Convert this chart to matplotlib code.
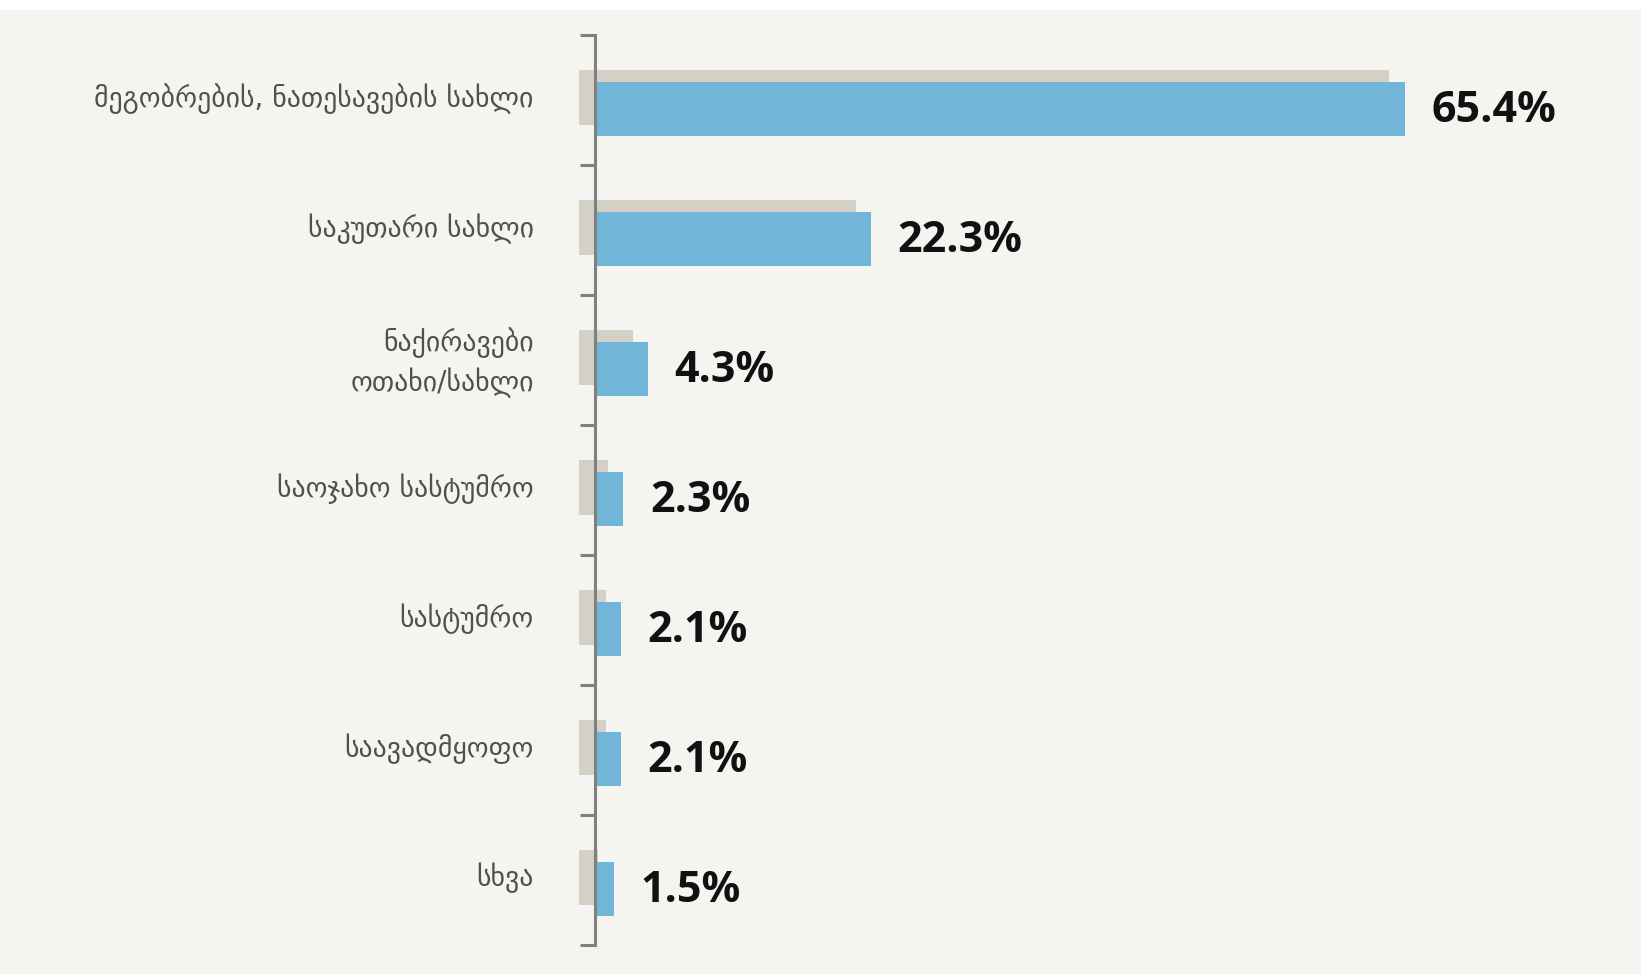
import matplotlib
matplotlib.use("Agg")
import matplotlib.pyplot as plt
from matplotlib.patches import Rectangle
import numpy as np

# ადგილი, სადაც ცხოვრობდნენ
kategoriat = ["მეგობრების, ნათესავების სახლი",
              "საკუთარი სახლი",
              "ნაქირავები\nოთახი/სახლი",
              "საოჯახო სასტუმრო",
              "სასტუმრო",
              "საავადმყოფო",
              "სხვა"]
arvot = [65.4, 22.3, 4.3, 2.3, 2.1, 2.1, 1.5]
nimiot = ["65.4%", "22.3%", "4.3%", "2.3%", "2.1%", "2.1%", "1.5%"]

tausta = "#f4f4f0"
sininen = "#71b6d9"
varjo = "#d5d0c6"
harmaa = "#808080"

fig = plt.figure(figsize=(16.41, 9.74), dpi=100, facecolor=tausta)
# valkoinen kaistale ylareunassa
fig.patches.append(Rectangle((0, 1 - 10/974), 1, 10/974, transform=fig.transFigure,
                             facecolor="white", edgecolor="none", zorder=0))
ax = fig.add_axes([576.4/1641, 1-945/974, (1598-576.4)/1641, 910/974])
ax.set_facecolor(tausta)

y = np.arange(len(arvot))
# varjo ensin, sitten sininen palkki paalle
ax.barh(y - 0.02, arvot, left=-1.25, height=0.42, color=varjo, zorder=1)
ax.barh(y + 0.07, arvot, height=0.42, color=sininen, zorder=2)

for yi, a, t in zip(y, arvot, nimiot):
    ax.annotate(t, (a, yi + 0.08), xytext=(19, 0), textcoords="offset points",
                ha="left", va="center", fontsize=31, fontweight="bold",
                family=["Open Sans", "DejaVu Sans"], color="#111111")

ax.set_xlim(-1.5, 81)
ax.set_ylim(6.5, -0.5)

for s in ["top", "right", "bottom"]:
    ax.spines[s].set_visible(False)
ax.spines["left"].set_position(("data", 0))
ax.spines["left"].set_color(harmaa)
ax.spines["left"].set_linewidth(2.2)
ax.spines["left"].set_zorder(3)

ax.set_xticks([])
ax.set_yticks(np.arange(-0.5, 7, 1.0))
ax.set_yticklabels([])
ax.tick_params(axis="y", which="major", length=11, width=2.2, color=harmaa, direction="out")
# nimiot hieman kategorian keskikohdan ylapuolelle
ax.set_yticks(y - 0.04, minor=True)
ax.set_yticklabels(kategoriat, minor=True, fontsize=20, color="#505050",
                   family="DejaVu Sans", linespacing=1.38)
ax.tick_params(axis="y", which="minor", length=0, pad=44)

fig.savefig("out.png", dpi=100, facecolor=tausta)
